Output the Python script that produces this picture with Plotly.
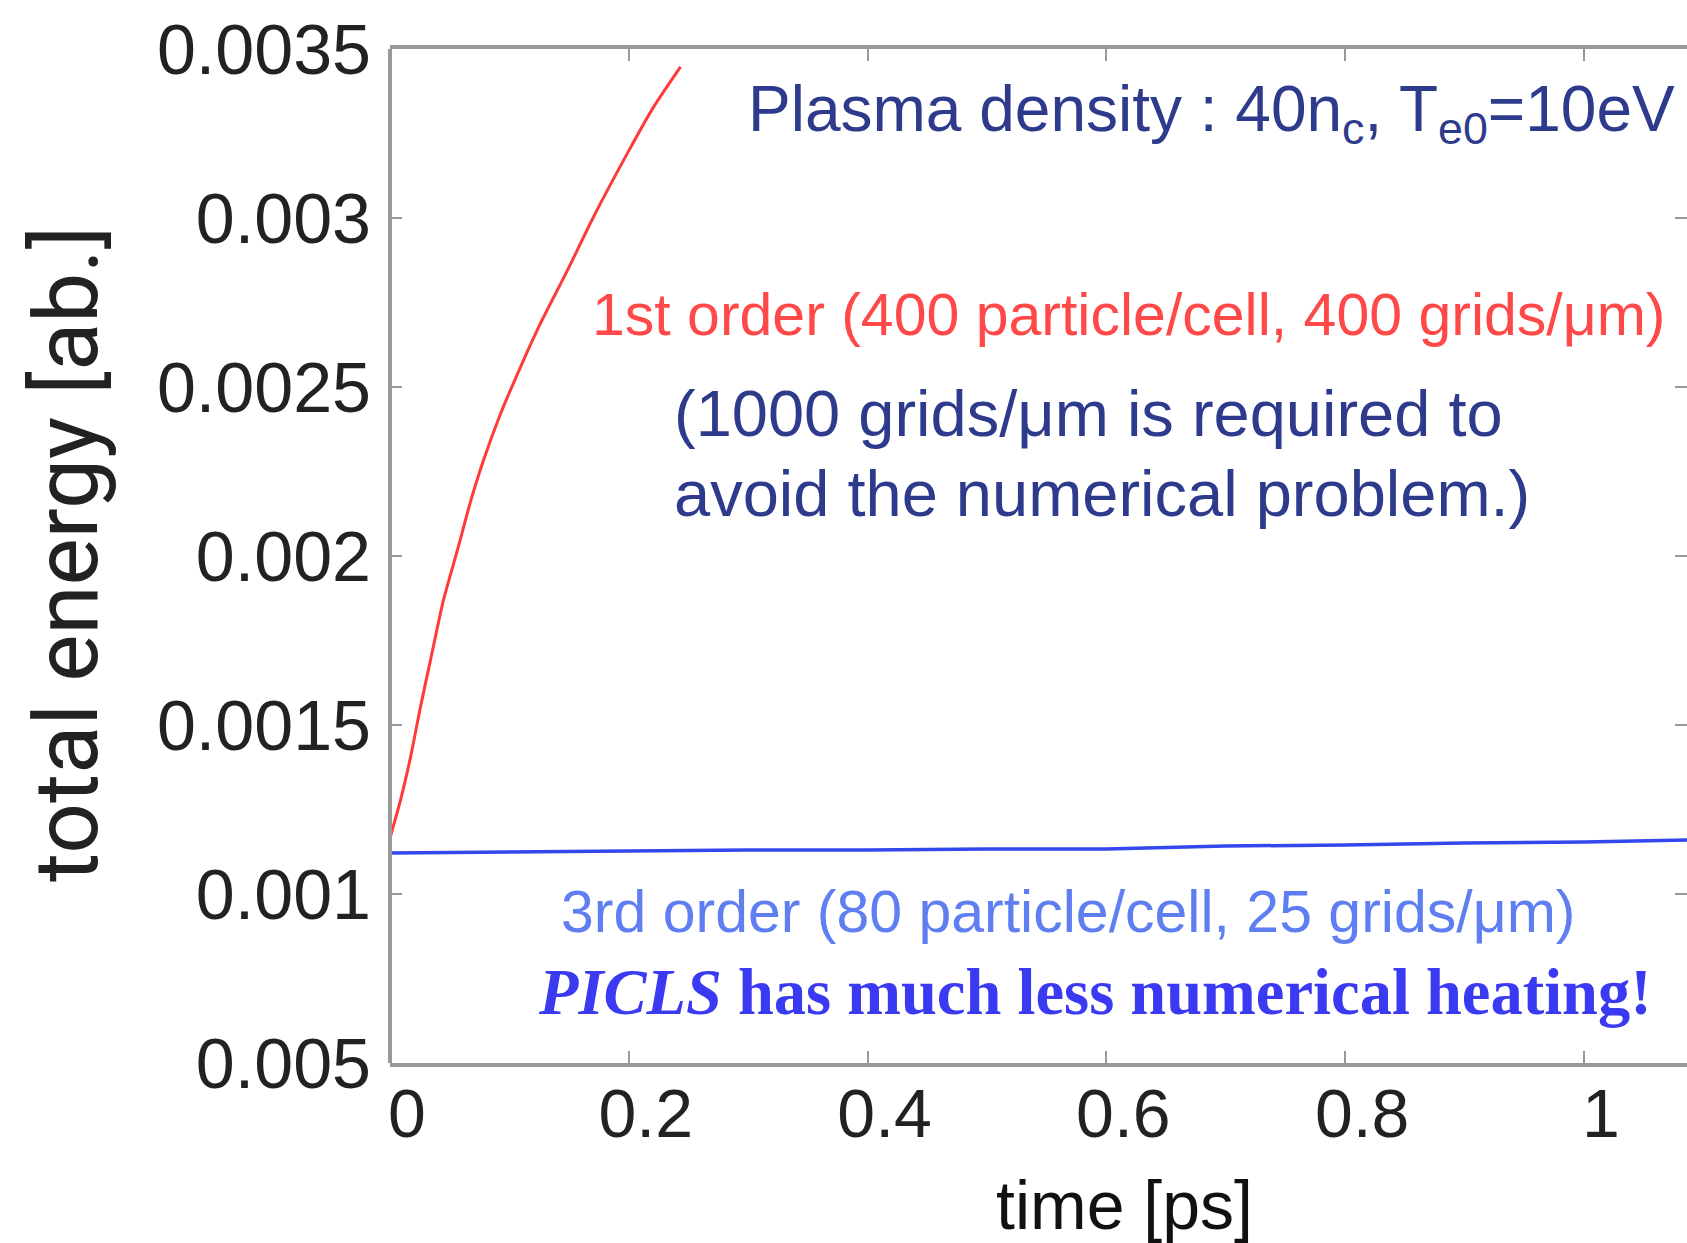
import plotly.graph_objects as go

# ---- data ----
red_t = [0.0, 0.0088, 0.0172, 0.0255, 0.0339, 0.0448, 0.0565, 0.0674, 0.0783, 0.0925,
         0.1093, 0.1260, 0.1486, 0.1704, 0.1989, 0.2207, 0.2433]
red_e = [0.001166, 0.001278, 0.001405, 0.001553, 0.001692, 0.001870, 0.002018, 0.002160,
         0.002283, 0.002420, 0.002559, 0.002688, 0.002845, 0.003003, 0.003192, 0.003328, 0.003447]

blue_t = [0.0, 0.1, 0.2, 0.3, 0.4, 0.5, 0.6, 0.7, 0.8, 0.9, 1.0, 1.087]
blue_e = [0.001121, 0.0011243, 0.0011272, 0.0011302, 0.0011302, 0.0011331, 0.0011331,
          0.0011420, 0.0011450, 0.0011509, 0.0011538, 0.0011598]

x_tickvals = [0, 0.2, 0.4, 0.6, 0.8, 1]
x_ticktext = ["0", "0.2", "0.4", "0.6", "0.8", "1"]
y_tickvals = [0.0035, 0.003, 0.0025, 0.002, 0.0015, 0.001, 0.0005]
y_ticktext = ["0.0035", "0.003", "0.0025", "0.002", "0.0015", "0.001", "0.005"]

AX = "#999999"
SANS = "Liberation Sans, Arial, sans-serif"

fig = go.Figure()
fig.add_trace(go.Scatter(x=red_t, y=red_e, mode="lines",
                         line=dict(color="#ff3a3a", width=3, shape="spline", smoothing=0.6),
                         showlegend=False))
fig.add_trace(go.Scatter(x=blue_t, y=blue_e, mode="lines",
                         line=dict(color="#3347ee", width=3.5),
                         showlegend=False))

fig.update_layout(
    width=1687, height=1243,
    margin=dict(l=390, r=0, t=49, b=180),
    paper_bgcolor="white", plot_bgcolor="white",
    font=dict(family=SANS, color="#222222"),
    xaxis=dict(range=[0, 1.0863], tickvals=x_tickvals, ticktext=x_ticktext,
               showgrid=False, zeroline=False, showline=True, linecolor=AX, linewidth=4,
               mirror="ticks", ticks="inside", ticklen=12, tickwidth=2, tickcolor=AX,
               tickfont=dict(size=68, family=SANS, color="#222222"),
               ticklabelshift=17, ticklabelstandoff=-12),
    yaxis=dict(range=[0.0005, 0.0035], tickvals=y_tickvals, ticktext=y_ticktext,
               showgrid=False, zeroline=False, showline=False,
               mirror="ticks", ticks="inside", ticklen=12, tickwidth=2, tickcolor=AX,
               tickfont=dict(size=70, family=SANS, color="#222222"),
               ticklabelstandoff=18),
)

# left axis line
fig.add_shape(type="line", xref="paper", yref="paper", x0=0, x1=0, y0=0, y1=1,
              line=dict(color=AX, width=4))

def px2paper(px, py):
    return (px - 390) / 1297, (1063 - py) / 1014

notes = [
    (746, 113, "Plasma density : 40n<sub>c</sub>, T<sub>e0</sub>=10eV", 64, "#2e3a8c", SANS),
    (590, 315, "1st order (400 particle/cell, 400 grids/μm)", 59, "#ff4848", SANS),
    (672, 414, "(1000 grids/μm is required to", 65, "#2e3a8c", SANS),
    (672, 493, "avoid the numerical problem.)", 65, "#2e3a8c", SANS),
    (559, 912, "3rd order (80 particle/cell, 25 grids/μm)", 59, "#5f7ef2", SANS),
    (536, 992, "<b><i>PICLS</i> has much less numerical heating!</b>", 64.5, "#3a3af2",
     "Liberation Serif, Times New Roman, serif"),
]
for px, py, txt, size, col, fam in notes:
    xp, yp = px2paper(px, py)
    fig.add_annotation(x=xp, y=yp, xref="paper", yref="paper", text=txt, showarrow=False,
                       xanchor="left", yanchor="middle",
                       font=dict(size=size, color=col, family=fam))

# axis titles
xp, yp = px2paper(1124, 1205)
fig.add_annotation(x=xp, y=yp, xref="paper", yref="paper", text="time [ps]", showarrow=False,
                   xanchor="center", yanchor="middle", font=dict(size=68, color="#111111"))
xp, yp = px2paper(66, 554)
fig.add_annotation(x=xp, y=yp, xref="paper", yref="paper", text="total energy [ab.]",
                   showarrow=False, textangle=-90, xanchor="center", yanchor="middle",
                   font=dict(size=89, color="#222222", family="Roboto, " + SANS))

fig.write_html("out.html")
